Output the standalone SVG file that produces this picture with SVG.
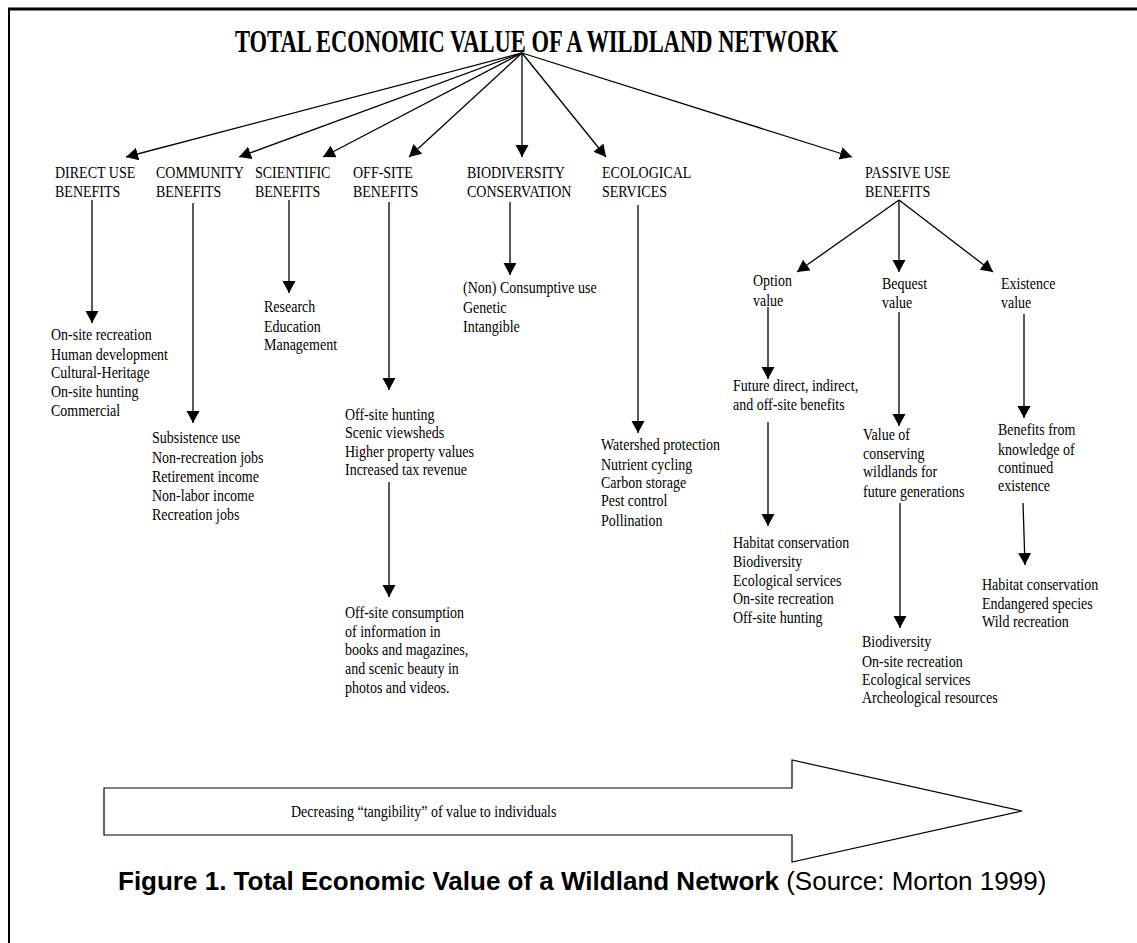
<svg xmlns="http://www.w3.org/2000/svg" width="1137" height="943" viewBox="0 0 1137 943">
<style>
.t{font-family:"Liberation Serif","Times New Roman",serif;font-size:14px;fill:#000;transform-box:fill-box;transform-origin:50% 100%;transform:scaleY(1.12)}
.title{font-family:"Liberation Serif","Times New Roman",serif;font-size:22.5px;font-weight:bold;fill:#000}
.cap{font-family:"Liberation Sans",Arial,sans-serif;font-size:26px;fill:#000}
.c line{stroke:#000;stroke-width:1.3;marker-end:url(#ah)}
</style>
<defs>
<marker id="ah" markerWidth="14" markerHeight="14" refX="12" refY="6.5" orient="auto" markerUnits="userSpaceOnUse"><path d="M0,0 L12,6.5 L0,13 z" fill="#000"/></marker>
</defs>
<rect width="1137" height="943" fill="#fff"/>
<g id="frame" fill="none" stroke="#000">
<line x1="8" y1="9" x2="1137" y2="9" stroke-width="3"/>
<line x1="9" y1="8" x2="9" y2="943" stroke-width="2"/>
</g>
<g id="title"><text class="title" transform="translate(235,52) scale(1,1.4)" x="0" y="0">TOTAL ECONOMIC VALUE OF A WILDLAND NETWORK</text></g>
<g id="direct"><text class="t" x="55" y="178">DIRECT USE</text><text class="t" x="55" y="197">BENEFITS</text></g>
<g id="community"><text class="t" x="156" y="178">COMMUNITY</text><text class="t" x="156" y="197">BENEFITS</text></g>
<g id="scientific"><text class="t" x="255" y="178">SCIENTIFIC</text><text class="t" x="255" y="197">BENEFITS</text></g>
<g id="offsite"><text class="t" x="353" y="178">OFF-SITE</text><text class="t" x="353" y="197">BENEFITS</text></g>
<g id="biodiversity"><text class="t" x="467" y="178">BIODIVERSITY</text><text class="t" x="467" y="197">CONSERVATION</text></g>
<g id="ecological"><text class="t" x="602" y="178">ECOLOGICAL</text><text class="t" x="602" y="197">SERVICES</text></g>
<g id="passive"><text class="t" x="865" y="178">PASSIVE USE</text><text class="t" x="865" y="197">BENEFITS</text></g>
<g id="direct-items"><text class="t" x="51" y="340">On-site recreation</text><text class="t" x="51" y="360">Human development</text><text class="t" x="51" y="378">Cultural-Heritage</text><text class="t" x="51" y="397">On-site hunting</text><text class="t" x="51" y="416">Commercial</text></g>
<g id="community-items"><text class="t" x="152" y="443">Subsistence use</text><text class="t" x="152" y="463">Non-recreation jobs</text><text class="t" x="152" y="482">Retirement income</text><text class="t" x="152" y="501">Non-labor income</text><text class="t" x="152" y="520">Recreation jobs</text></g>
<g id="scientific-items"><text class="t" x="264" y="312">Research</text><text class="t" x="264" y="332">Education</text><text class="t" x="264" y="350">Management</text></g>
<g id="offsite-items"><text class="t" x="345" y="420">Off-site hunting</text><text class="t" x="345" y="438">Scenic viewsheds</text><text class="t" x="345" y="457">Higher property values</text><text class="t" x="345" y="475">Increased tax revenue</text></g>
<g id="offsite-consumption"><text class="t" x="345" y="618">Off-site consumption</text><text class="t" x="345" y="637">of information in</text><text class="t" x="345" y="655">books and magazines,</text><text class="t" x="345" y="674">and scenic beauty in</text><text class="t" x="345" y="693">photos and videos.</text></g>
<g id="biodiversity-items"><text class="t" x="463" y="293">(Non) Consumptive use</text><text class="t" x="463" y="313">Genetic</text><text class="t" x="463" y="332">Intangible</text></g>
<g id="ecological-items"><text class="t" x="601" y="450">Watershed protection</text><text class="t" x="601" y="470">Nutrient cycling</text><text class="t" x="601" y="488">Carbon storage</text><text class="t" x="601" y="506">Pest control</text><text class="t" x="601" y="526">Pollination</text></g>
<g id="option"><text class="t" x="753" y="286">Option</text><text class="t" x="753" y="306">value</text></g>
<g id="bequest"><text class="t" x="882" y="289">Bequest</text><text class="t" x="882" y="308">value</text></g>
<g id="existence"><text class="t" x="1001" y="289">Existence</text><text class="t" x="1001" y="308">value</text></g>
<g id="option-future"><text class="t" x="733" y="391">Future direct, indirect,</text><text class="t" x="733" y="410">and off-site benefits</text></g>
<g id="option-items"><text class="t" x="733" y="548">Habitat conservation</text><text class="t" x="733" y="567">Biodiversity</text><text class="t" x="733" y="586">Ecological services</text><text class="t" x="733" y="604">On-site recreation</text><text class="t" x="733" y="623">Off-site hunting</text></g>
<g id="bequest-desc"><text class="t" x="863" y="440">Value of</text><text class="t" x="863" y="459">conserving</text><text class="t" x="863" y="477">wildlands for</text><text class="t" x="863" y="497">future generations</text></g>
<g id="bequest-items"><text class="t" x="862" y="647">Biodiversity</text><text class="t" x="862" y="667">On-site recreation</text><text class="t" x="862" y="685">Ecological services</text><text class="t" x="862" y="703">Archeological resources</text></g>
<g id="existence-desc"><text class="t" x="998" y="435">Benefits from</text><text class="t" x="998" y="455">knowledge of</text><text class="t" x="998" y="473">continued</text><text class="t" x="998" y="491">existence</text></g>
<g id="existence-items"><text class="t" x="982" y="590">Habitat conservation</text><text class="t" x="982" y="609">Endangered species</text><text class="t" x="982" y="627">Wild recreation</text></g>
<g id="connectors" class="c">
<line x1="522" y1="53" x2="126" y2="157"/>
<line x1="522" y1="53" x2="239" y2="157"/>
<line x1="522" y1="53" x2="323" y2="157"/>
<line x1="522" y1="53" x2="409" y2="157"/>
<line x1="522" y1="53" x2="522" y2="157"/>
<line x1="522" y1="53" x2="606" y2="157"/>
<line x1="522" y1="53" x2="852" y2="157"/>
<line x1="92" y1="200" x2="92" y2="323"/>
<line x1="193" y1="203" x2="193" y2="423"/>
<line x1="289" y1="200" x2="289" y2="293"/>
<line x1="389" y1="202" x2="389" y2="390"/>
<line x1="389" y1="482" x2="389" y2="597"/>
<line x1="510" y1="202" x2="510" y2="275"/>
<line x1="638" y1="205" x2="638" y2="433"/>
<line x1="899" y1="200" x2="797" y2="272"/>
<line x1="899" y1="200" x2="899" y2="272"/>
<line x1="899" y1="200" x2="993" y2="272"/>
<line x1="768" y1="307" x2="768" y2="379"/>
<line x1="768" y1="422" x2="768" y2="526"/>
<line x1="899" y1="312" x2="899" y2="426"/>
<line x1="900" y1="503" x2="900" y2="628"/>
<line x1="1024" y1="314" x2="1024" y2="418"/>
<line x1="1023" y1="503" x2="1025" y2="565"/>
</g>
<g id="tangibility-arrow">
<polygon points="104,788 792,788 792,760 1022,811 792,862 792,835 104,835" fill="#fff" stroke="#000" stroke-width="1.2"/>
<text class="t" x="291" y="817" font-size="13">Decreasing “tangibility” of value to individuals</text>
</g>
<g id="caption"><text class="cap" x="118" y="890"><tspan font-weight="bold">Figure 1. Total Economic Value of a Wildland Network</tspan> (Source: Morton 1999)</text></g>
</svg>
